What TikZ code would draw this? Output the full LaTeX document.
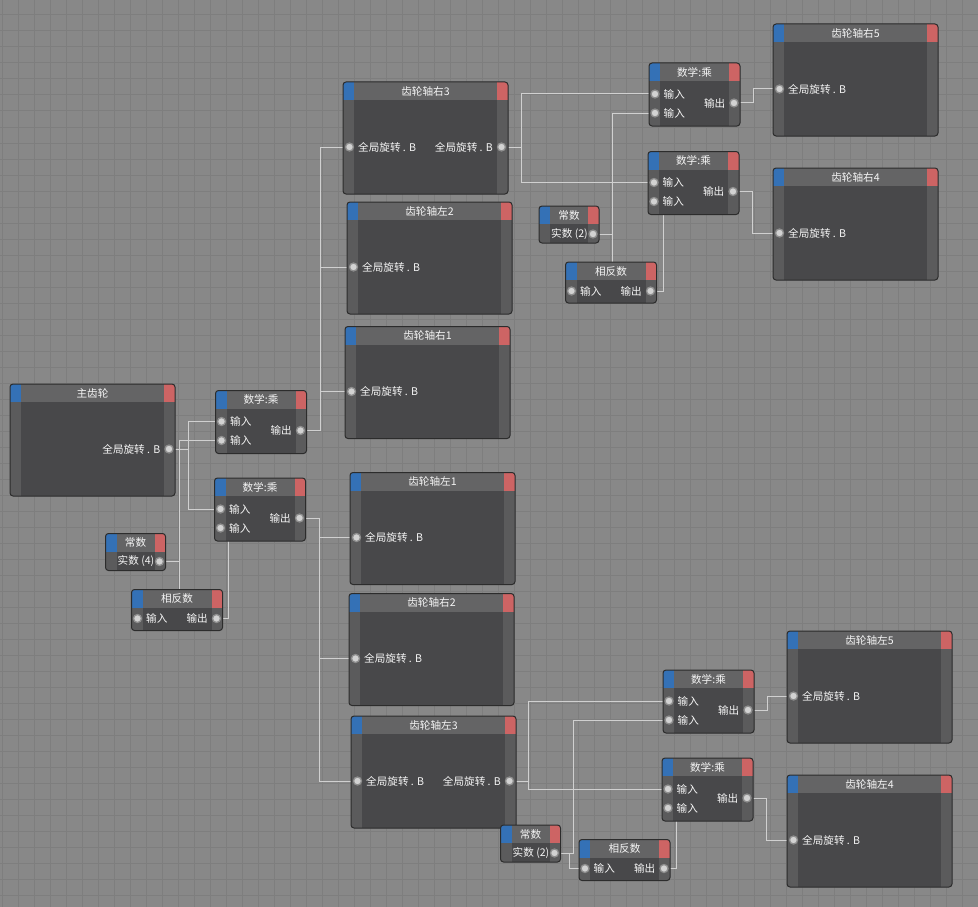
\documentclass[tikz,border=0pt]{standalone}
\usepackage{fontspec}
\newfontfamily\cjk{Noto Sans CJK SC}
\usepackage{xcolor}
\usepackage{tikz}
\usetikzlibrary{positioning, calc, backgrounds}
\definecolor{canvasgray}{HTML}{888888}
\definecolor{gridgray}{HTML}{7E7E7E}
\definecolor{bodydark}{HTML}{48484A}
\definecolor{sidegray}{HTML}{5B5B5C}
\definecolor{headgray}{HTML}{646465}
\definecolor{edgedark}{HTML}{2C2C2C}
\definecolor{portblue}{HTML}{3471B6}
\definecolor{portred}{HTML}{CD6464}
\definecolor{wiregray}{HTML}{D0D0D0}
\definecolor{portfill}{HTML}{D2D2D2}
\definecolor{portring}{HTML}{8E8E8E}
\definecolor{labelwhite}{HTML}{F6F6F6}

% frame of one xpresso node: name, x, y, width, height, title
\newcommand{\xpframe}[6]{%
    \node (#1) [xpbody, minimum width=#4, minimum height=#5] at (#2,#3) {};
    \begin{scope}
        \clip [rounded corners=3pt] (#1.north west) rectangle (#1.south east);
        \fill [sidegray] (#1.north west) rectangle ([xshift=11pt]#1.south west);
        \fill [sidegray] ([xshift=-11pt]#1.north east) rectangle (#1.south east);
        \fill [headgray] (#1.north west) rectangle ([yshift=-18pt]#1.north east);
        \fill [portblue] (#1.north west) rectangle ([xshift=11pt,yshift=-18pt]#1.north west);
        \fill [portred] ([xshift=-11pt]#1.north east) rectangle ([yshift=-18pt]#1.north east);
    \end{scope}
    \draw [xpedge] (#1.north west) rectangle (#1.south east);
    \node (#1-title) [xptext] at ([yshift=-9pt]#1.north) {#6};
}
% ports: node, port, dx, dy, label
\newcommand{\inport}[5]{%
    \node (#1-#2) [port] at ([xshift=#3pt,yshift=-#4pt]#1.north west) {};
    \node (#1-#2-lbl) [xptext, anchor=west] at ([xshift=8.5pt]#1-#2.center) {#5};
}
\newcommand{\outport}[5]{%
    \node (#1-#2) [port] at ([xshift=-#3pt,yshift=-#4pt]#1.north east) {};
    \node (#1-#2-lbl) [xptext, anchor=east] at ([xshift=-8.5pt]#1-#2.center) {#5};
}
\newcommand{\gearnode}[4]{\xpframe{#1}{#2}{#3}{165}{112}{#4}}
\newcommand{\mulnode}[3]{%
    \xpframe{#1}{#2}{#3}{91}{63}{数学:乘}
    \inport{#1}{in1}{6}{31}{输入}
    \inport{#1}{in2}{6}{50}{输入}
    \outport{#1}{out}{6}{40}{输出}
}
\newcommand{\constnode}[4]{%
    \xpframe{#1}{#2}{#3}{60}{37}{常数}
    \node (#1-out) [port] at ([xshift=-6pt,yshift=-28pt]#1.north east) {};
    \node (#1-out-lbl) [xptext, anchor=east] at ([xshift=-5pt]#1-out.center) {实数 (#4)};
}
\newcommand{\negnode}[3]{%
    \xpframe{#1}{#2}{#3}{91}{41}{相反数}
    \inport{#1}{in}{6}{29}{输入}
    \outport{#1}{out}{6}{29}{输出}
}

\begin{document}
\begin{tikzpicture}[
    x=1pt, y=-1pt,
    xpbody/.style={
        rectangle,
        anchor=north west,
        fill=bodydark,
        rounded corners=3pt,
        inner sep=0pt,
        outer sep=0pt
    },
    xpedge/.style={
        draw=edgedark,
        line width=1pt,
        rounded corners=3pt
    },
    xptext/.style={
        text=labelwhite,
        font=\cjk\fontsize{10.6}{12}\selectfont,
        inner sep=0pt
    },
    port/.style={
        circle,
        minimum size=8pt,
        inner sep=0pt,
        fill=portfill,
        draw=portring,
        line width=1.3pt
    },
    wire/.style={
        draw=wiregray,
        line width=1pt
    },
    gridline/.style={
        draw=gridgray,
        line width=1pt
    }
]

\useasboundingbox (0,0) rectangle (978,907);

% ==================== CANVAS ====================
\begin{scope}[on background layer]
    \fill [canvasgray] (0,0) rectangle (978,907);
    \foreach \gx in {2,18,...,978} {
        \draw [gridline] (\gx,0) -- (\gx,907);
    }
    \foreach \gy in {15,31,...,907} {
        \draw [gridline] (0,\gy) -- (978,\gy);
    }
\end{scope}

% ==================== LEFT: MAIN GEAR ====================
\gearnode{main}{10}{384}{主齿轮}
\outport{main}{out}{6}{65}{全局旋转 . B}
\mulnode{mulA}{215.5}{390.5}
\mulnode{mulB}{214.5}{478}
\constnode{constA}{105.5}{533.5}{4}
\negnode{negA}{131.5}{589.5}

% ==================== MIDDLE: GEAR SHAFTS ====================
\gearnode{right3}{343}{82}{齿轮轴右3}
\inport{right3}{in}{6.5}{65}{全局旋转 . B}
\outport{right3}{out}{6.5}{65}{全局旋转 . B}
\gearnode{left2}{347}{202}{齿轮轴左2}
\inport{left2}{in}{6.5}{65}{全局旋转 . B}
\gearnode{right1}{345}{326.5}{齿轮轴右1}
\inport{right1}{in}{6.5}{65}{全局旋转 . B}
\gearnode{left1}{350}{472.5}{齿轮轴左1}
\inport{left1}{in}{6.5}{65}{全局旋转 . B}
\gearnode{right2}{349}{593.5}{齿轮轴右2}
\inport{right2}{in}{6.5}{65}{全局旋转 . B}
\gearnode{left3}{351}{716}{齿轮轴左3}
\inport{left3}{in}{6.5}{65}{全局旋转 . B}
\outport{left3}{out}{6.5}{65}{全局旋转 . B}

% ==================== TOP RIGHT ====================
\mulnode{mulC}{649}{63}
\mulnode{mulD}{648}{151.5}
\constnode{constB}{539}{206}{2}
\negnode{negB}{565.5}{262}
\gearnode{right5}{773}{24}{齿轮轴右5}
\inport{right5}{in}{6.5}{65}{全局旋转 . B}
\gearnode{right4}{773}{168}{齿轮轴右4}
\inport{right4}{in}{6.5}{65}{全局旋转 . B}

% ==================== BOTTOM RIGHT ====================
\mulnode{mulE}{663}{670}
\mulnode{mulF}{662}{758}
\constnode{constC}{500.5}{825}{2}
\negnode{negC}{579}{839.5}
\gearnode{left5}{787}{631}{齿轮轴左5}
\inport{left5}{in}{6.5}{65}{全局旋转 . B}
\gearnode{left4}{787}{775}{齿轮轴左4}
\inport{left4}{in}{6.5}{65}{全局旋转 . B}

% Wires behind the nodes
\begin{scope}[on background layer]
    \draw [wire] (main-out) -- ++(19,0) |- (mulA-in1);
    \draw [wire] (main-out) -- ++(19,0) |- (mulB-in1);
    \draw [wire] (constA-out) -- ++(20,0) |- (mulA-in2);
    \draw [wire] (constA-out) -- ++(20,0) |- (negA-in);
    \draw [wire] (negA-out) -- ++(12,0) |- (mulB-in2);

    \draw [wire] (mulA-out) -- ++(19.5,0) |- (right3-in);
    \draw [wire] (mulA-out) -- ++(19.5,0) |- (left2-in);
    \draw [wire] (mulA-out) -- ++(19.5,0) |- (right1-in);
    \draw [wire] (mulB-out) -- ++(19.5,0) |- (left1-in);
    \draw [wire] (mulB-out) -- ++(19.5,0) |- (right2-in);
    \draw [wire] (mulB-out) -- ++(19.5,0) |- (left3-in);

    \draw [wire] (right3-out) -- ++(20,0) |- (mulC-in1);
    \draw [wire] (right3-out) -- ++(20,0) |- (mulD-in1);
    \draw [wire] (constB-out) -- ++(19,0) |- (mulC-in2);
    \draw [wire] (constB-out) -- ++(19,0) |- (negB-in);
    \draw [wire] (negB-out) -- ++(12.5,0) |- (mulD-in2);
    \draw [wire] (mulC-out) -- ++(19,0) |- (right5-in);
    \draw [wire] (mulD-out) -- ++(19,0) |- (right4-in);

    \draw [wire] (left3-out) -- ++(19,0) |- (mulE-in1);
    \draw [wire] (left3-out) -- ++(19,0) |- (mulF-in1);
    \draw [wire] (constC-out) -- ++(18.5,0) |- (mulE-in2);
    \draw [wire] (constC-out) -- ++(14.5,0) |- (negC-in);
    \draw [wire] (negC-out) -- ++(12,0) |- (mulF-in2);
    \draw [wire] (mulE-out) -- ++(19,0) |- (left5-in);
    \draw [wire] (mulF-out) -- ++(19,0) |- (left4-in);
\end{scope}

\end{tikzpicture}
\end{document}
